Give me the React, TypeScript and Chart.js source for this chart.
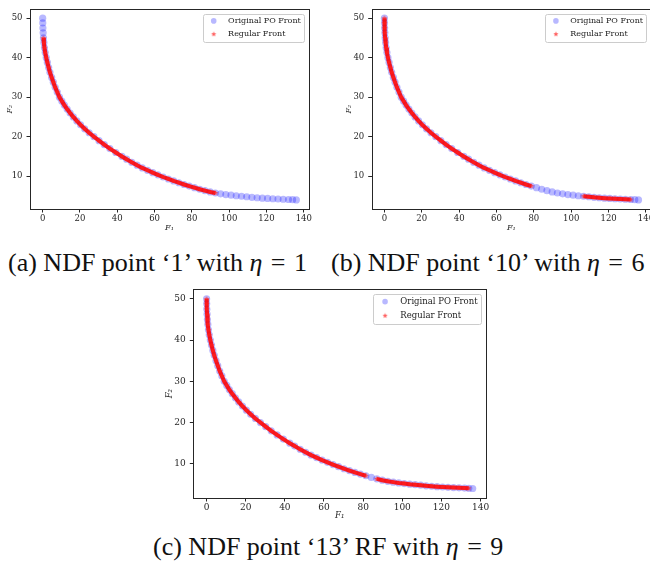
import React, { useEffect, useRef } from "react";
import { Chart, registerables } from "chart.js";

Chart.register(...registerables);

// ---- data ----
const PO_F1 = [0, 0.05, 0.12, 0.25, 0.4, 0.65, 0.95, 1.35, 1.9, 2.5, 3.2, 3.9, 4.8, 5.7, 6.7, 7.8, 9.0, 10.3, 11.6, 13.1, 14.7, 16.4, 18.3, 20.3, 22.5, 24.9, 27.5, 30.2, 33.0, 36.0, 39.2, 42.5, 45.0, 47.8, 50.6, 53.4, 56.2, 59.0, 61.8, 64.6, 67.4, 70.2, 73.0, 75.8, 78.6, 81.4, 84.2, 87.0, 89.8, 92.6, 95.4, 98.2, 101.0, 103.8, 106.6, 109.4, 112.2, 115.0, 117.8, 120.6, 123.4, 126.2, 129.0, 131.8, 134.0, 136.0];
const PO_F2 = [50, 48.8, 47.5, 46.3, 45, 43.8, 42.5, 41.3, 40, 38.8, 37.5, 36.3, 35, 33.8, 32.5, 31.3, 30, 29, 28, 27, 26, 25, 24, 23, 22, 21, 20, 19, 18, 17, 16, 15, 14.3, 13.5, 12.8, 12.1, 11.5, 10.9, 10.35, 9.8, 9.3, 8.8, 8.35, 7.9, 7.5, 7.1, 6.7, 6.35, 6.02, 5.75, 5.55, 5.35, 5.2, 5.05, 4.93, 4.8, 4.65, 4.55, 4.45, 4.37, 4.3, 4.23, 4.17, 4.1, 4.05, 4.0];

// F1 ranges of the PO front that are covered by the regular front in each panel
const RF_A_RANGES = [[0.3, 93]];
const RF_B_RANGES = [[0, 80], [106, 132]];
const RF_C_RANGES = [[0, 82], [86, 135]];

const X_TICKS = [0, 20, 40, 60, 80, 100, 120, 140];
const Y_TICKS = [10, 20, 30, 40, 50];
const X_RANGE = [-6.8, 142.8];
const Y_RANGE = [1.7, 52.3];
const LEGEND_LABELS = ["Original PO Front", "Regular Front"];
const X_TITLE = "F\u2081";
const Y_TITLE = "F\u2082";
const CAPTIONS = [
  { tag: "(a) NDF point \u20181\u2019 with ", eta: "1" },
  { tag: "(b) NDF point \u201810\u2019 with ", eta: "6" },
  { tag: "(c) NDF point \u201813\u2019 RF with ", eta: "9" },
];

// ---- styling ----
const SERIF = '"DejaVu Serif"';
const BLUE = "rgba(0,0,255,0.28)";
const RED_LINE = "rgba(255,0,0,0.88)";
const RED_STAR = "rgba(255,30,30,0.7)";

function makeStar(r: number, color: string) {
  const c = document.createElement("canvas");
  const s = Math.ceil(r * 2 + 2);
  c.width = s;
  c.height = s;
  const g = c.getContext("2d")!;
  g.fillStyle = color;
  g.beginPath();
  for (let i = 0; i < 10; i++) {
    const ang = -Math.PI / 2 + (i * Math.PI) / 5;
    const rr = i % 2 === 0 ? r : r * 0.45;
    g.lineTo(s / 2 + rr * Math.cos(ang), s / 2 + rr * Math.sin(ang));
  }
  g.closePath();
  g.fill();
  return c;
}

type PanelProps = {
  left: number;
  top: number;
  width: number;
  height: number;
  area: { left: number; top: number; right: number; bottom: number };
  padLeft: number;
  yTitleX: number;
  xTitleY: number;
  ranges: number[][];
  tickSize: number;
  legendSize: number;
  titleSize: number;
};

function Panel(p: PanelProps) {
  const ref = useRef<HTMLCanvasElement>(null);
  useEffect(() => {
    const star = makeStar(3, RED_STAR);
    const legendStar = makeStar(2.7, RED_STAR);
    const po = PO_F1.map((x, i) => ({ x, y: PO_F2[i] }));
    const redSets = p.ranges.map(([a, b]) => ({
      label: LEGEND_LABELS[1],
      data: po.filter((pt) => pt.x >= a && pt.x <= b),
      showLine: true,
      borderColor: RED_LINE,
      borderWidth: 4,
      pointStyle: star as any,
      pointRadius: 3,
      order: 1,
    }));
    const titleLH = p.titleSize * 1.2;
    const fp = {
      id: "frameLegend",
      afterDraw(chart: any) {
        const { ctx, chartArea: a } = chart;
        ctx.save();
        ctx.strokeStyle = "#262626";
        ctx.lineWidth = 1;
        ctx.strokeRect(
          Math.round(a.left) + 0.5,
          Math.round(a.top) + 0.5,
          Math.round(a.right) - Math.round(a.left),
          Math.round(a.bottom) - Math.round(a.top)
        );
        const f = p.legendSize;
        ctx.font = `${f}px ${SERIF}`;
        const tw = Math.max(...LEGEND_LABELS.map((l) => ctx.measureText(l).width));
        const pad = 0.4 * f, handle = 2 * f, hpad = 0.8 * f;
        const w = pad + handle + hpad + tw + pad;
        const h = 3.5 * f;
        const x0 = a.right - 5 - w;
        const y0 = a.top + 5;
        ctx.beginPath();
        ctx.roundRect(Math.round(x0) + 0.5, Math.round(y0) + 0.5, Math.round(w), Math.round(h), 2);
        ctx.fillStyle = "rgba(255,255,255,0.8)";
        ctx.fill();
        ctx.strokeStyle = "#cccccc";
        ctx.stroke();
        const mx = x0 + pad + handle / 2;
        const tx = x0 + pad + handle + hpad;
        for (let i = 0; i < 2; i++) {
          const cy = y0 + 0.85 * f + i * 1.66 * f;
          if (i === 0) {
            ctx.beginPath();
            ctx.arc(mx, cy, 2.8, 0, Math.PI * 2);
            ctx.fillStyle = BLUE;
            ctx.fill();
          } else {
            ctx.drawImage(legendStar, mx - legendStar.width / 2, cy - legendStar.height / 2);
          }
          ctx.fillStyle = "#222";
          ctx.textBaseline = "middle";
          ctx.textAlign = "left";
          ctx.fillText(LEGEND_LABELS[i], tx, cy);
        }
        ctx.restore();
      },
    };
    const tickFont = { family: SERIF, size: p.tickSize };
    const titleFont = { family: SERIF, size: p.titleSize, style: "italic" as const };
    const chart = new Chart(ref.current!, {
      type: "scatter",
      data: {
        datasets: [
          ...redSets,
          {
            label: LEGEND_LABELS[0],
            data: po,
            backgroundColor: BLUE,
            borderColor: "rgba(0,0,0,0)",
            borderWidth: 0,
            pointRadius: 3.6,
            pointStyle: "circle",
            order: 2,
          },
        ] as any,
      },
      options: {
        responsive: false,
        animation: false,
        events: [],
        layout: {
          padding: { left: p.padLeft, top: p.area.top, right: p.width - p.area.right, bottom: 0 },
        },
        plugins: { legend: { display: false }, tooltip: { enabled: false } },
        scales: {
          x: {
            type: "linear",
            min: X_RANGE[0],
            max: X_RANGE[1],
            afterBuildTicks: (s: any) => {
              s.ticks = X_TICKS.map((v) => ({ value: v }));
            },
            afterFit: (s: any) => {
              s.height = p.height - p.area.bottom;
            },
            ticks: { font: tickFont, color: "#262626", padding: 1, maxRotation: 0, autoSkip: false },
            grid: { display: true, drawOnChartArea: false, drawTicks: true, tickLength: 3.5, color: "#262626" },
            border: { display: false },
            title: {
              display: true,
              text: X_TITLE,
              font: titleFont,
              color: "#262626",
              padding: { top: 0, bottom: p.height - p.xTitleY - titleLH / 2 },
            },
          },
          y: {
            type: "linear",
            min: Y_RANGE[0],
            max: Y_RANGE[1],
            afterBuildTicks: (s: any) => {
              s.ticks = Y_TICKS.map((v) => ({ value: v }));
            },
            afterFit: (s: any) => {
              s.width = p.area.left - p.padLeft;
            },
            ticks: { font: tickFont, color: "#262626", padding: 4, autoSkip: false },
            grid: { display: true, drawOnChartArea: false, drawTicks: true, tickLength: 3.5, color: "#262626" },
            border: { display: false },
            title: {
              display: true,
              text: Y_TITLE,
              font: titleFont,
              color: "#262626",
              padding: { top: p.yTitleX - p.padLeft - titleLH / 2, bottom: 0 },
            },
          },
        },
      } as any,
      plugins: [fp],
    });
    return () => chart.destroy();
  }, []);
  return (
    <canvas
      ref={ref}
      width={p.width}
      height={p.height}
      style={{ position: "absolute", left: p.left, top: p.top, width: p.width, height: p.height }}
    />
  );
}

function Caption({ idx, left, top }: { idx: number; left: number; top: number }) {
  const c = CAPTIONS[idx];
  return (
    <div
      style={{
        position: "absolute",
        left,
        top,
        font: '26px "Liberation Serif"',
        lineHeight: "28px",
        whiteSpace: "nowrap",
        color: "#111",
      }}
    >
      {c.tag}
      <i>{"\u03b7"}</i>
      <span style={{ margin: "0 2px" }}>{" = "}</span>
      {c.eta}
    </div>
  );
}

export default function App() {
  return (
    <div
      style={{
        position: "absolute",
        left: 0,
        top: 0,
        width: 650,
        height: 569,
        overflow: "hidden",
        background: "#fff",
      }}
    >
      <Panel
        left={0}
        top={0}
        width={320}
        height={236}
        area={{ left: 30, top: 5, right: 309, bottom: 209 }}
        padLeft={0}
        yTitleX={10}
        xTitleY={228}
        ranges={RF_A_RANGES}
        tickSize={8.5}
        legendSize={8}
        titleSize={8}
      />
      <Panel
        left={320}
        top={0}
        width={340}
        height={236}
        area={{ left: 51.7, top: 5, right: 331.2, bottom: 209 }}
        padLeft={19}
        yTitleX={29.3}
        xTitleY={228}
        ranges={RF_B_RANGES}
        tickSize={8.5}
        legendSize={8}
        titleSize={8}
      />
      <Panel
        left={150}
        top={280}
        width={345}
        height={245}
        area={{ left: 43.3, top: 3.3, right: 336, bottom: 218 }}
        padLeft={10}
        yTitleX={20}
        xTitleY={236}
        ranges={RF_C_RANGES}
        tickSize={9}
        legendSize={8.5}
        titleSize={8.5}
      />
      <Caption idx={0} left={8} top={249} />
      <Caption idx={1} left={331} top={249} />
      <Caption idx={2} left={153} top={533} />
    </div>
  );
}
